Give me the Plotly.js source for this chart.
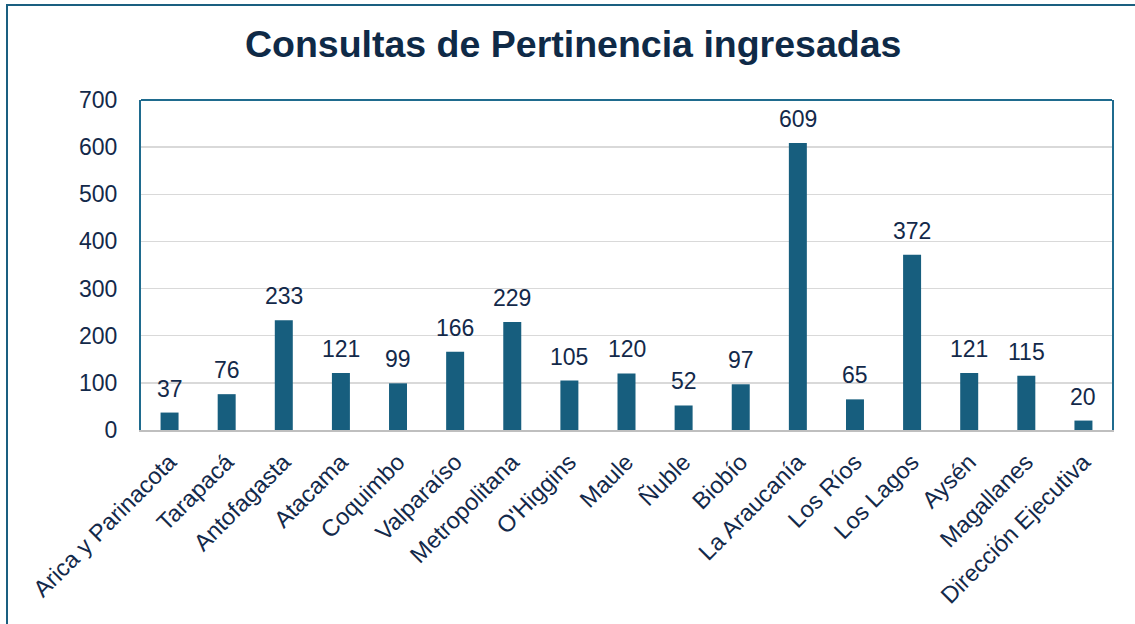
<!DOCTYPE html>
<html>
<head>
<meta charset="utf-8">
<script src="https://cdn.plot.ly/plotly-3.0.1.min.js"></script>
<style>
  html, body { margin: 0; padding: 0; background: #ffffff; overflow: hidden; }
  #chart { width: 1135px; height: 624px; position: absolute; left: 0; top: 0; }
  #frame { position: absolute; left: 6px; top: 4px; width: 1200px; height: 700px;
           border-left: 2px solid #1a5f80; border-top: 2px solid #1a5f80; pointer-events: none; }
</style>
</head>
<body>
<div id="chart"></div>
<div id="frame"></div>
<script>
const categories = ["Arica y Parinacota", "Tarapacá", "Antofagasta", "Atacama", "Coquimbo",
  "Valparaíso", "Metropolitana", "O'Higgins", "Maule", "Ñuble", "Biobío", "La Araucanía",
  "Los Ríos", "Los Lagos", "Aysén", "Magallanes", "Dirección Ejecutiva"];
const values = [37, 76, 233, 121, 99, 166, 229, 105, 120, 52, 97, 609, 65, 372, 121, 115, 20];
const yTicks = [0, 100, 200, 300, 400, 500, 600, 700];

const FONT = "Liberation Sans, Arial, sans-serif";
const TEXT = "#13294a";
const BAR = "#175e7e";
const FRAME = "#1f6b8e";

const trace = {
  type: "bar",
  x: categories,
  y: values,
  marker: { color: BAR },
  hoverinfo: "x+y"
};

const annotations = categories.map((c, i) => ({
  x: c, y: values[i], xref: "x", yref: "y",
  text: String(values[i]), showarrow: false,
  yanchor: "bottom", yshift: 9,
  font: { family: FONT, size: 23, color: TEXT }
}));

const layout = {
  width: 1135, height: 624,
  margin: { l: 141, r: 23, t: 100, b: 194 },
  paper_bgcolor: "#ffffff",
  plot_bgcolor: "#ffffff",
  bargap: 0.685,
  showlegend: false,
  title: {
    text: "<b>Consultas de Pertinencia ingresadas</b>",
    font: { family: FONT, size: 37.5, color: "#0f2a47" },
    xref: "container", x: 0.505, xanchor: "center",
    yref: "container", y: 0.929, yanchor: "middle"
  },
  xaxis: {
    type: "category",
    tickangle: -45,
    tickfont: { family: FONT, size: 23.5, color: TEXT },
    showline: true, linecolor: "#bfbfbf", linewidth: 2,
    ticks: "outside", ticklen: 7, tickcolor: "rgba(0,0,0,0)",
    showgrid: false
  },
  yaxis: {
    range: [0, 700],
    tickvals: yTicks,
    tickfont: { family: FONT, size: 23, color: TEXT },
    gridcolor: "#d9d9d9", gridwidth: 1.5,
    showline: true, mirror: true, linecolor: FRAME, linewidth: 2,
    ticks: "outside", ticklen: 17, tickcolor: "rgba(0,0,0,0)",
    zeroline: false
  },
  shapes: [{
    type: "line", xref: "paper", yref: "paper",
    x0: 0, x1: 1, y0: 1, y1: 1,
    line: { color: FRAME, width: 2 }
  }],
  annotations: annotations
};

Plotly.newPlot("chart", [trace], layout, { displayModeBar: false, staticPlot: true });
</script>
</body>
</html>
